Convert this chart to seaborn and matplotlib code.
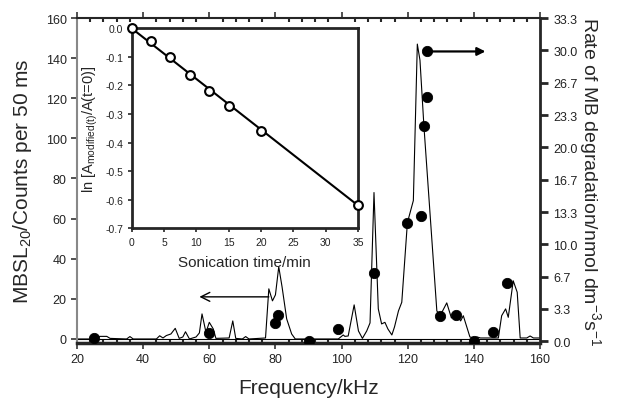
import numpy as np
import pandas as pd
import matplotlib
matplotlib.use('Agg')
import matplotlib.pyplot as plt
import seaborn as sns

# =============================================================================
# Data
# =============================================================================

# MBSL spectrum (left axis)
spec_freq = [20, 25, 26, 27, 29, 30, 35, 36, 37, 44, 45, 46, 47, 48.4, 49.7, 50.9,
             52, 52.8, 54, 56, 57, 57.8, 59, 60, 61.2, 62, 66, 67.1, 68, 70, 71, 72,
             77, 78, 79.1, 80, 81, 82, 83.4, 84.9, 86, 99, 100.5, 101, 102, 103.8,
             105.1, 106.3, 107.6, 108.6, 109.8, 111.1, 112.1, 113.1, 114, 115.2,
             116, 117.2, 118.2, 119.9, 121.7, 122.9, 123.7, 124.9, 128.8, 129.8,
             131.8, 133.2, 134.8, 136, 136.8, 138.8, 140, 141, 142, 147.4, 148.4,
             149.6, 150.4, 151.9, 153.1, 154, 156, 157, 158, 160]
spec_val = [0, 0, 0.5, 1.3, 1.3, 0.3, 0, 1.2, 0, 0, 1.6, 0.5, 1.7, 2.5, 5.3, 0.3,
            1, 3.6, 0, 1, 3, 12.5, 3.3, 8.3, 5, 0.3, 0.5, 9, 0.3, 0, 1.2, 0,
            0.5, 25, 19, 22, 36, 26, 10, 2.5, 0, 0, 2, 1.3, 1.5, 17,
            4, 0.3, 4, 8, 73, 15, 7.5, 8.3, 5, 2,
            6, 14, 18.3, 58, 69, 147, 139, 106, 14, 11.6,
            18, 10.5, 12.5, 9, 11.6, 1, 0.5, 1, 0.5, 0.5, 11.6,
            15, 10.8, 29, 23.3, 0.5, 0.5, 1.5, 0.5, 0.5]

# MB degradation rate (right axis)
rate_freq = [25, 60, 79.9, 80.9, 90, 99, 109.8, 119.9, 123.9, 124.9, 125.7, 125.8,
             129.9, 134.7, 140, 145.9, 149.9]
rate_val = [0.3, 0.8, 1.9, 2.7, 0, 1.3, 7.0, 12.2, 12.9, 22.2, 25.2, 29.9,
            2.6, 2.75, 0, 1.0, 6.0]

# inset: ln(A/A0) vs sonication time
son_time = [0, 3, 6, 9, 12, 15, 20, 35]
ln_ratio = [0.0, -0.043, -0.099, -0.162, -0.218, -0.271, -0.358, -0.618]
fit_time = [0, 35]
fit_val = [0.0, -0.62]

x_ticks = [20, 40, 60, 80, 100, 120, 140, 160]
left_ticks = [0, 20, 40, 60, 80, 100, 120, 140, 160]
right_ticks = [0, 10/3, 20/3, 10, 40/3, 50/3, 20, 70/3, 80/3, 30, 100/3]
right_labels = ['0.0', '3.3', '6.7', '10.0', '13.3', '16.7', '20.0', '23.3', '26.7', '30.0', '33.3']
inset_xticks = [0, 5, 10, 15, 20, 25, 30, 35]
inset_yticks = [0.0, -0.1, -0.2, -0.3, -0.4, -0.5, -0.6, -0.7]

spec_df = pd.DataFrame({'freq': spec_freq, 'mbsl': spec_val})
rate_df = pd.DataFrame({'freq': rate_freq, 'rate': rate_val})
son_df = pd.DataFrame({'t': son_time, 'ln': ln_ratio})
fit_df = pd.DataFrame({'t': fit_time, 'ln': fit_val})

# =============================================================================
# Plot
# =============================================================================

sns.set_style('ticks')
plt.rcParams['font.family'] = ['Liberation Sans', 'DejaVu Sans']
plt.rcParams['mathtext.fontset'] = 'custom'
plt.rcParams['mathtext.rm'] = 'Liberation Sans'
plt.rcParams['mathtext.it'] = 'Liberation Sans:italic'

fig = plt.figure(figsize=(6.2, 4.02), dpi=100)
ax = fig.add_axes([0.1242, 0.1443, 0.8710 - 0.1242, 0.9527 - 0.1443])

sns.lineplot(data=spec_df, x='freq', y='mbsl', ax=ax, color='black', lw=0.8,
             estimator=None, sort=False)
ax.axhline(0, color='black', lw=0.8, zorder=1)
ax.set_xlim(20, 160)
ax.set_ylim(-2, 160)
ax.set_xticks(x_ticks)
ax.set_xticks(np.arange(24, 160, 4), minor=True)
ax.set_yticks(left_ticks)
ax.set_xlabel('Frequency/kHz', fontsize=15, labelpad=9)
ax.set_ylabel('MBSL$_{20}$/Counts per 50 ms', fontsize=15, labelpad=8)
ax.tick_params(axis='both', which='major', labelsize=9, direction='out', length=4,
               width=1.2, color='#333333', labelcolor='#222222')
ax.tick_params(axis='x', which='minor', direction='in', length=3, width=1.5,
               top=True, bottom=True)
ax.tick_params(axis='x', which='major', top=True)
ax.spines['left'].set_color('#888888')
ax.spines['left'].set_linewidth(1.5)
ax.spines['bottom'].set_linewidth(2.5)
ax.spines['top'].set_linewidth(1.5)
ax.spines['right'].set_visible(False)

ax.annotate('', xy=(57, 21), xytext=(78, 21),
            arrowprops=dict(arrowstyle='->', lw=1.0, color='black',
                            mutation_scale=16, shrinkA=0, shrinkB=0))

ax2 = ax.twinx()
sns.scatterplot(data=rate_df, x='freq', y='rate', ax=ax2, color='black', s=55,
                edgecolor='black', zorder=5)
ax2.set_ylim(-0.18, 33.35)
ax2.set_yticks(right_ticks)
ax2.set_yticklabels(right_labels)
ax2.set_ylabel('Rate of MB degradation/nmol dm$^{-3}$s$^{-1}$', fontsize=14,
               rotation=270, labelpad=18)
ax2.tick_params(axis='y', labelsize=9, direction='out', length=6, width=2,
                labelcolor='#222222')
ax2.spines['right'].set_linewidth(2)
for s in ['left', 'top', 'bottom']:
    ax2.spines[s].set_visible(False)
ax2.annotate('', xy=(143.5, 29.9), xytext=(125.8, 29.9),
             arrowprops=dict(arrowstyle='-|>', lw=1.6, color='black',
                             mutation_scale=12, shrinkA=0, shrinkB=0))

# inset
ins = fig.add_axes([0.2124, 0.4296, 0.5774 - 0.2124, 0.927 - 0.4296])
sns.lineplot(data=fit_df, x='t', y='ln', ax=ins, color='black', lw=1.5)
sns.scatterplot(data=son_df, x='t', y='ln', ax=ins, color='white', edgecolor='black',
                linewidth=1.5, s=40, zorder=5, clip_on=False)
ins.set_xlim(0, 35)
ins.set_ylim(-0.7, 0.0)
ins.set_xticks(inset_xticks)
ins.set_yticks(inset_yticks)
ins.set_yticklabels(['%.1f' % v for v in inset_yticks])
ins.tick_params(labelsize=7.5, direction='out', length=3, width=1.2, pad=3,
                labelcolor='#222222')
ins.set_xlabel('Sonication time/min', fontsize=11, labelpad=6)
ins.set_ylabel('ln [A$_{\\rm modified(t)}$/A(t=0)]', fontsize=10.5, labelpad=4)
for s in ins.spines.values():
    s.set_linewidth(2)

fig.savefig('out.png', dpi=100)
